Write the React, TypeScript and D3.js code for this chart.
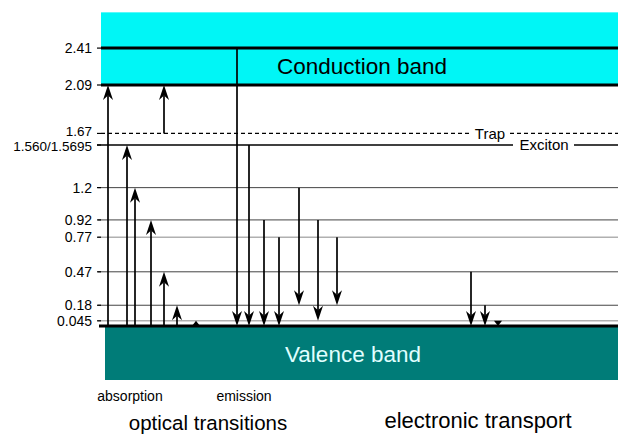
import React from "react";
import * as d3 from "d3";

// Energy levels (eV) and their tick labels
const levelValues = [2.41, 2.09, 1.67, 1.5695, 1.2, 0.92, 0.77, 0.47, 0.18, 0.045];
const tickLabels = ["2.41", "2.09", "1.67", "1.560/1.5695", "1.2", "0.92", "0.77", "0.47", "0.18", "0.045"];
const levelKinds = ["band", "band", "trap", "exciton", "dark", "dark", "light", "dark", "dark", "light"];

// transitions: horizontal slot, start energy, end energy
const absorptionPos = [7, 63, 26, 34, 50, 63, 76, 95];
const absorptionFrom = [0, 1.67, 0, 0, 0, 0, 0, 0];
const absorptionTo = [2.09, 2.09, 1.5695, 1.2, 0.92, 0.47, 0.18, 0.045];

const emissionPos = [136, 148, 163, 178, 198, 217, 236];
const emissionFrom = [2.41, 1.5695, 0.92, 0.77, 1.2, 0.92, 0.77];
const emissionTo = [0, 0, 0, 0, 0.18, 0.045, 0.18];

const transportPos = [370, 384, 397];
const transportFrom = [0.47, 0.18, 0.045];
const transportTo = [0, 0, 0];

const W = 618;
const H = 434;
const FONT = "Liberation Sans, Arial, sans-serif";

export default function App() {
  React.useEffect(() => {
    document.body.style.margin = "0";
  }, []);

  const x = d3.scaleLinear().domain([0, 517]).range([101, 618]);
  const y = d3.scaleLinear().domain([0, 2.09]).range([326, 85]);
  const topE = 2.72;

  const arrow = (pos: number, from: number, to: number, key: string) => {
    const cx = x(pos);
    const y0 = y(from);
    const y1 = y(to);
    const dir = y1 < y0 ? 1 : -1; // 1 = upward
    const len = Math.abs(y1 - y0);
    const hl = Math.min(15, len);
    const hw = len < 10 ? 4 : 5;
    const notch = len < 10 ? 0 : 4.5;
    const base = y1 + dir * hl;
    const path = d3.path();
    path.moveTo(cx, y1);
    path.lineTo(cx + hw, base);
    path.lineTo(cx, base - dir * notch);
    path.lineTo(cx - hw, base);
    path.closePath();
    return (
      <g key={key}>
        {len > 10 && (
          <line x1={cx} x2={cx} y1={y0} y2={base - dir * notch} stroke="#000" strokeWidth={1.7} />
        )}
        <path d={path.toString()} fill="#000" />
      </g>
    );
  };

  return (
    <svg width={W} height={H} style={{ display: "block" }}>
      <rect x={0} y={0} width={W} height={H} fill="#fff" />
      {/* conduction band */}
      <rect x={x(0)} y={y(topE)} width={x(517) - x(0)} height={y(2.09) - y(topE)} fill="#00f6f6" />
      {/* valence band */}
      <rect x={x(4)} y={y(0) + 1} width={x(517) - x(4)} height={53} fill="#007c78" />

      {/* level lines */}
      {levelValues.map((v, i) => {
        const k = levelKinds[i];
        const yy = y(v);
        if (k === "band") {
          return <line key={i} x1={x(0)} x2={x(517)} y1={yy} y2={yy} stroke="#000" strokeWidth={3} />;
        }
        if (k === "trap") {
          return (
            <g key={i}>
              <line x1={x(0)} x2={x(369)} y1={yy} y2={yy} stroke="#000" strokeWidth={1.2} strokeDasharray="4,3" />
              <line x1={x(409)} x2={x(517)} y1={yy} y2={yy} stroke="#000" strokeWidth={1.2} strokeDasharray="4,3" />
            </g>
          );
        }
        if (k === "exciton") {
          return (
            <g key={i}>
              <line x1={x(0) - 4} x2={x(412)} y1={yy} y2={yy} stroke="#000" strokeWidth={1.6} />
              <line x1={x(473)} x2={x(517)} y1={yy} y2={yy} stroke="#000" strokeWidth={1.6} />
            </g>
          );
        }
        return (
          <line
            key={i}
            x1={x(0) - 3}
            x2={x(517)}
            y1={yy}
            y2={yy}
            stroke={k === "dark" ? "#444" : "#b0b0b0"}
            strokeWidth={k === "dark" ? 1 : 1.6}
          />
        );
      })}
      {/* baseline */}
      <line x1={x(0) - 2} x2={x(517)} y1={y(0)} y2={y(0)} stroke="#000" strokeWidth={3} />
      {/* ticks */}
      {levelValues.map((v, i) => (
        <line key={"t" + i} x1={x(0) - 4} x2={x(0)} y1={y(v)} y2={y(v)} stroke="#000" strokeWidth={1.2} />
      ))}
      {/* tick labels */}
      {tickLabels.map((t, i) => (
        <text
          key={"l" + i}
          x={x(0) - 9}
          y={y(levelValues[i]) + (t === "1.67" ? -2 : t === "1.560/1.5695" ? 1 : 0)}
          dy="0.35em"
          textAnchor="end"
          fontFamily={FONT}
          fontSize={t === "1.560/1.5695" || t === "1.67" ? 13.5 : 14}
          fill="#000"
        >
          {t}
        </text>
      ))}

      {/* arrows */}
      {absorptionPos.map((p, i) => arrow(p, absorptionFrom[i], absorptionTo[i], "a" + i))}
      {emissionPos.map((p, i) => arrow(p, emissionFrom[i], emissionTo[i], "e" + i))}
      {transportPos.map((p, i) => arrow(p, transportFrom[i], transportTo[i], "tr" + i))}

      {/* level labels */}
      <text x={x(389)} y={y(1.67)} dy="0.35em" textAnchor="middle" fontFamily={FONT} fontSize={15}>Trap</text>
      <text x={x(443)} y={y(1.5695)} dy="0.35em" textAnchor="middle" fontFamily={FONT} fontSize={15}>Exciton</text>

      <text x={362} y={y(2.25)} dy="0.35em" textAnchor="middle" fontFamily={FONT} fontSize={22.5}>Conduction band</text>
      <text x={353} y={354} dy="0.35em" textAnchor="middle" fontFamily={FONT} fontSize={22.5} fill="#e0ffff">Valence band</text>

      <text x={130} y={396} dy="0.35em" textAnchor="middle" fontFamily={FONT} fontSize={14}>absorption</text>
      <text x={244} y={396} dy="0.35em" textAnchor="middle" fontFamily={FONT} fontSize={14}>emission</text>
      <text x={208} y={423} dy="0.35em" textAnchor="middle" fontFamily={FONT} fontSize={20.5}>optical transitions</text>
      <text x={478} y={420.5} dy="0.35em" textAnchor="middle" fontFamily={FONT} fontSize={22}>electronic transport</text>
    </svg>
  );
}
